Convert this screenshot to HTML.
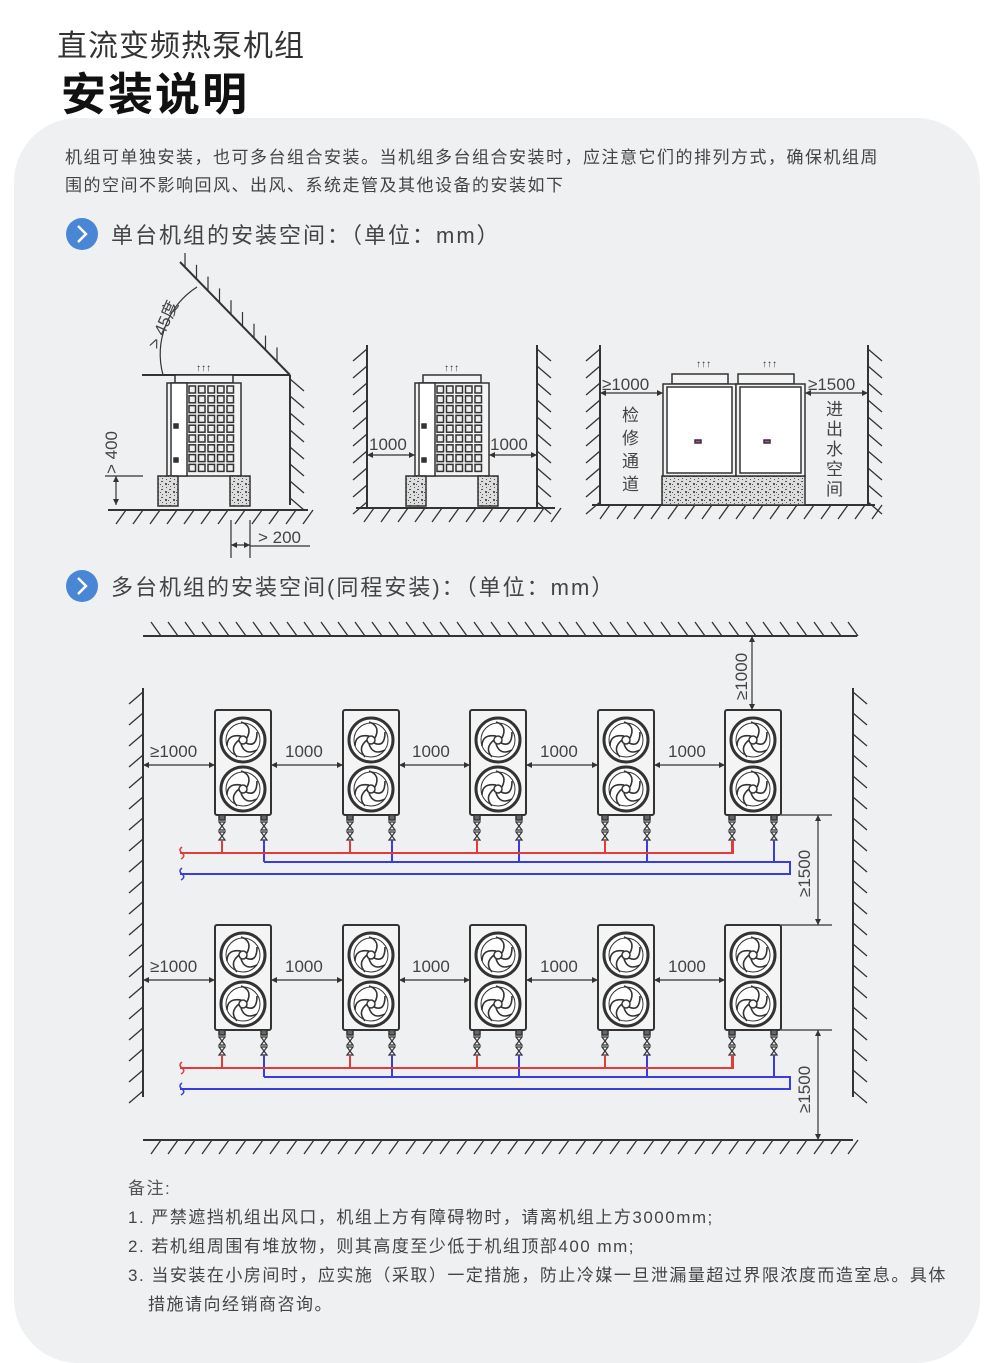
<!DOCTYPE html>
<html><head><meta charset="utf-8">
<style>
html,body{margin:0;padding:0;background:#fff;}
body{width:1000px;height:1344px;position:relative;overflow:hidden;font-family:"Liberation Sans","Noto Sans CJK SC",sans-serif;}
.panel{position:absolute;left:14px;top:118px;width:966px;height:1245px;background:#eef0f2;border-radius:64px;}
.t1{position:absolute;left:57px;top:21px;font-size:30px;color:#333;letter-spacing:1px;}
.t2{position:absolute;left:61px;top:58px;font-size:45px;font-weight:bold;color:#111;letter-spacing:2px;}
.p{position:absolute;left:65px;font-size:17px;letter-spacing:1.5px;color:#444;white-space:nowrap;}
svg{position:absolute;left:0;top:0;}
</style></head><body>
<div class="panel"></div>
<div class="t1">直流变频热泵机组</div>
<div class="t2">安装说明</div>
<div class="p" style="top:143px">机组可单独安装，也可多台组合安装。当机组多台组合安装时，应注意它们的排列方式，确保机组周</div>
<div class="p" style="top:171px">围的空间不影响回风、出风、系统走管及其他设备的安装如下</div>
<div class="p" style="left:128px;top:1174px;color:#555">备注:</div>
<div class="p" style="left:128px;top:1203px">1. 严禁遮挡机组出风口，机组上方有障碍物时，请离机组上方3000mm;</div>
<div class="p" style="left:128px;top:1232px">2. 若机组周围有堆放物，则其高度至少低于机组顶部400 mm;</div>
<div class="p" style="left:128px;top:1261px">3. 当安装在小房间时，应实施（采取）一定措施，防止冷媒一旦泄漏量超过界限浓度而造室息。具体</div>
<div class="p" style="left:148px;top:1290px">措施请向经销商咨询。</div>
<svg id="s" width="1000" height="1344" xmlns="http://www.w3.org/2000/svg" font-family="Liberation Sans, Noto Sans CJK SC, sans-serif">
<defs>
<g id="fan">
<circle r="22" fill="#fff" stroke="#333" stroke-width="3"/>
<circle r="17" fill="none" stroke="#333" stroke-width="1"/>
<circle r="4" fill="#fff" stroke="#333" stroke-width="1.5"/>
<g fill="none" stroke="#333" stroke-width="1.6">
<path d="M4,-2 Q10,-14 -2,-18"/><path d="M3,3 Q14,8 14,-8"/><path d="M-2,4 Q2,16 14,10"/><path d="M-4,0 Q-14,8 -6,17"/><path d="M-2,-4 Q-16,-6 -16,6"/>
</g>
</g>
<g id="unit">
<rect x="0" y="0" width="56" height="105" rx="2" fill="#f4f4f4" stroke="#333" stroke-width="2"/>
<use href="#fan" x="28" y="30"/><use href="#fan" x="28" y="79"/>
<rect x="4" y="105" width="6" height="5" fill="#666"/><rect x="46" y="105" width="6" height="5" fill="#666"/>
<path d="M4,112 l6,8 l-6,0 l6,-8z M46,112 l6,8 l-6,0 l6,-8z" fill="none" stroke="#333" stroke-width="1.2"/>
<path d="M4,122 l6,8 l-6,0 l6,-8z M46,122 l6,8 l-6,0 l6,-8z" fill="none" stroke="#333" stroke-width="1.2"/>
</g>
<pattern id="grain" width="8" height="8" patternUnits="userSpaceOnUse">
<rect width="8" height="8" fill="#ddd"/><path d="M1,1h2v1h-2z M5,3h2v2h-2z M2,6h1v1h-1z M6,7h1v1h-1z M0,4h1v1h-1z" fill="#555"/>
</pattern>
</defs>
<circle cx="82" cy="234" r="16" fill="#4a86d6"/><path d="M78,226 l8,8 l-8,8" fill="none" stroke="#fff" stroke-width="2.5"/>
<text x="111" y="243" font-size="22" letter-spacing="2" fill="#444">单台机组的安装空间：（单位：mm）</text>
<circle cx="82" cy="586" r="16" fill="#4a86d6"/><path d="M78,578 l8,8 l-8,8" fill="none" stroke="#fff" stroke-width="2.5"/>
<text x="111" y="595" font-size="22" letter-spacing="2" fill="#444">多台机组的安装空间(同程安装)：（单位：mm）</text>
<g id="draw" stroke="#333" fill="none" stroke-width="1.5"></g>
<g font-size="17" fill="#444">
<text x="150" y="757">≥1000</text>
<text x="285" y="757">1000</text><text x="412" y="757">1000</text><text x="540" y="757">1000</text><text x="668" y="757">1000</text>
<text x="150" y="972">≥1000</text>
<text x="285" y="972">1000</text><text x="412" y="972">1000</text><text x="540" y="972">1000</text><text x="668" y="972">1000</text>
<text transform="translate(747,700) rotate(-90)">≥1000</text>
<text transform="translate(810,897) rotate(-90)">≥1500</text>
<text transform="translate(810,1113) rotate(-90)">≥1500</text>
<text x="369" y="450">1000</text><text x="490" y="450">1000</text>
<text x="602" y="390">≥1000</text><text x="808" y="390">≥1500</text>
<text x="258" y="543">&gt; 200</text>
<text transform="translate(117,474) rotate(-90)">&gt; 400</text>
<text transform="translate(158,350) rotate(-66)">&gt; 45度</text>
<text x="622" y="421">检</text><text x="622" y="444">修</text><text x="622" y="467">通</text><text x="622" y="490">道</text>
<text x="826" y="415">进</text><text x="826" y="435">出</text><text x="826" y="455">水</text><text x="826" y="475">空</text><text x="826" y="495">间</text>
</g>
</svg>
<script>
const g=document.getElementById('draw');const NS='http://www.w3.org/2000/svg';
function el(t,a){const e=document.createElementNS(NS,t);for(const k in a)e.setAttribute(k,a[k]);g.appendChild(e);return e;}
function L(x1,y1,x2,y2,c,w){el('line',{x1,y1,x2,y2,stroke:c||'#333','stroke-width':w||1.5});}
function R(x,y,w,h,f,s){el('rect',{x,y,width:w,height:h,fill:f||'#f4f4f4',stroke:s||'#333','stroke-width':1.5});}
function hatchH(x1,x2,y,dir,sp){L(x1,y,x2,y,'#333',2);for(let x=x1+8;x<x2;x+=sp)L(x,y+dir*14,x+10,y,'#333',1.3);}
function hatchV(x,y1,y2,dir,sp){L(x,y1,x,y2,'#333',2);for(let y=y1+4;y<y2;y+=sp)L(x+dir*14,y+12,x,y,'#333',1.3);}
function arrH(x1,x2,y){L(x1,y,x2,y,'#333',1.2);el('path',{d:`M${x1},${y} l6,-3 v6z M${x2},${y} l-6,-3 v6z`,fill:'#333',stroke:'none'});}
function arrV(x,y1,y2){L(x,y1,x,y2,'#333',1.2);el('path',{d:`M${x},${y1} l-3,6 h6z M${x},${y2} l-3,-6 h6z`,fill:'#333',stroke:'none'});}
hatchH(143,857,636,-1,17);
hatchH(143,853,1140,1,17);
hatchV(143,688,1097,-1,21);
hatchV(853,688,1097,1,21);
const xs=[215,343,470,598,725];
[0,215].forEach(o=>{
 xs.forEach(x=>{el('use',{href:'#unit',x:x,y:710+o});
  L(x+7,840+o,x+7,853+o,'#e23b3b',2);L(x+49,840+o,x+49,862+o,'#3b3be2',2);});
 arrH(143,215,765+o);for(let i=0;i<4;i++)arrH(xs[i]+56,xs[i+1],765+o);
 el('path',{d:`M180,${853+o} H733 V${840+o}`,stroke:'#e23b3b','stroke-width':2,fill:'none'});
 el('path',{d:`M264,${862+o} H790 V${874+o} H180`,stroke:'#3b3be2','stroke-width':2,fill:'none'});
 el('path',{d:`M182,${847+o} q-4,3 0,6 q4,3 -1,6`,stroke:'#e23b3b','stroke-width':1.5,fill:'none'});
 el('path',{d:`M182,${868+o} q-4,3 0,6 q4,3 -1,6`,stroke:'#3b3be2','stroke-width':1.5,fill:'none'});
 L(781,815+o,832,815+o,'#333',1.2);
});
arrV(752,636,710);
arrV(818,815,925);L(781,925,832,925,'#333',1.2);
arrV(818,1030,1140);
hatchH(108,308,510,1,17);
L(142,375,290,375,'#333',2);L(180,262,290,375,'#333',2);
for(let i=0;i<9;i++){const x=185+i*11.5,y=267+i*11.8;L(x,y,x,y-14,'#333',1.2);}
hatchV(290,375,505,1,17);
function single(x){R(x+8,375,58,8);R(x,383,74,93);R(x+4,383,16,93,'#fff');
 for(let r=0;r<9;r++)for(let c=0;c<5;c++)R(x+22+c*9.5,386+r*9.8,6.5,7,'#eee');
 R(x+7,424,4,4,'#333');R(x+7,458,4,4,'#333');
 el('text',{x:x+29,y:371,'font-size':10,fill:'#333',stroke:'none'}).textContent='↑↑↑';
 R(x-9,476,20,30,'url(#grain)');R(x+63,476,20,30,'url(#grain)');}
single(167);
L(105,476,143,476,'#333',1.2);arrV(116,476,505);
L(231,520,231,558,'#333',1.2);L(250,520,250,558,'#333',1.2);L(250,546,310,546,'#333',1.2);arrH(231,250,545);
el('path',{d:'M163,375 A80,80 0 0 1 197,287',stroke:'#333','stroke-width':1.2,fill:'none'});
hatchH(356,555,508,1,17);
hatchV(367,345,508,-1,17);hatchV(537,345,508,1,17);
single(415);
arrH(367,415,455);arrH(489,537,455);
hatchH(592,875,505,1,17);
hatchV(600,345,505,-1,17);hatchV(868,345,505,1,17);
R(662,476,143,29,'url(#grain)');
R(672,374,56,10);R(738,374,56,10);
R(663,384,73,92);R(736,384,69,92);R(667,387,65,86,'#fff');R(740,387,61,86,'#fff');
R(695,440,6,3,'#c040c0');R(764,440,6,3,'#c040c0');
['696','762'].forEach(x=>{el('text',{x:x,y:367,'font-size':10,fill:'#333',stroke:'none'}).textContent='↑↑↑';});
arrH(600,663,393);arrH(805,868,393);
</script>
</body></html>
